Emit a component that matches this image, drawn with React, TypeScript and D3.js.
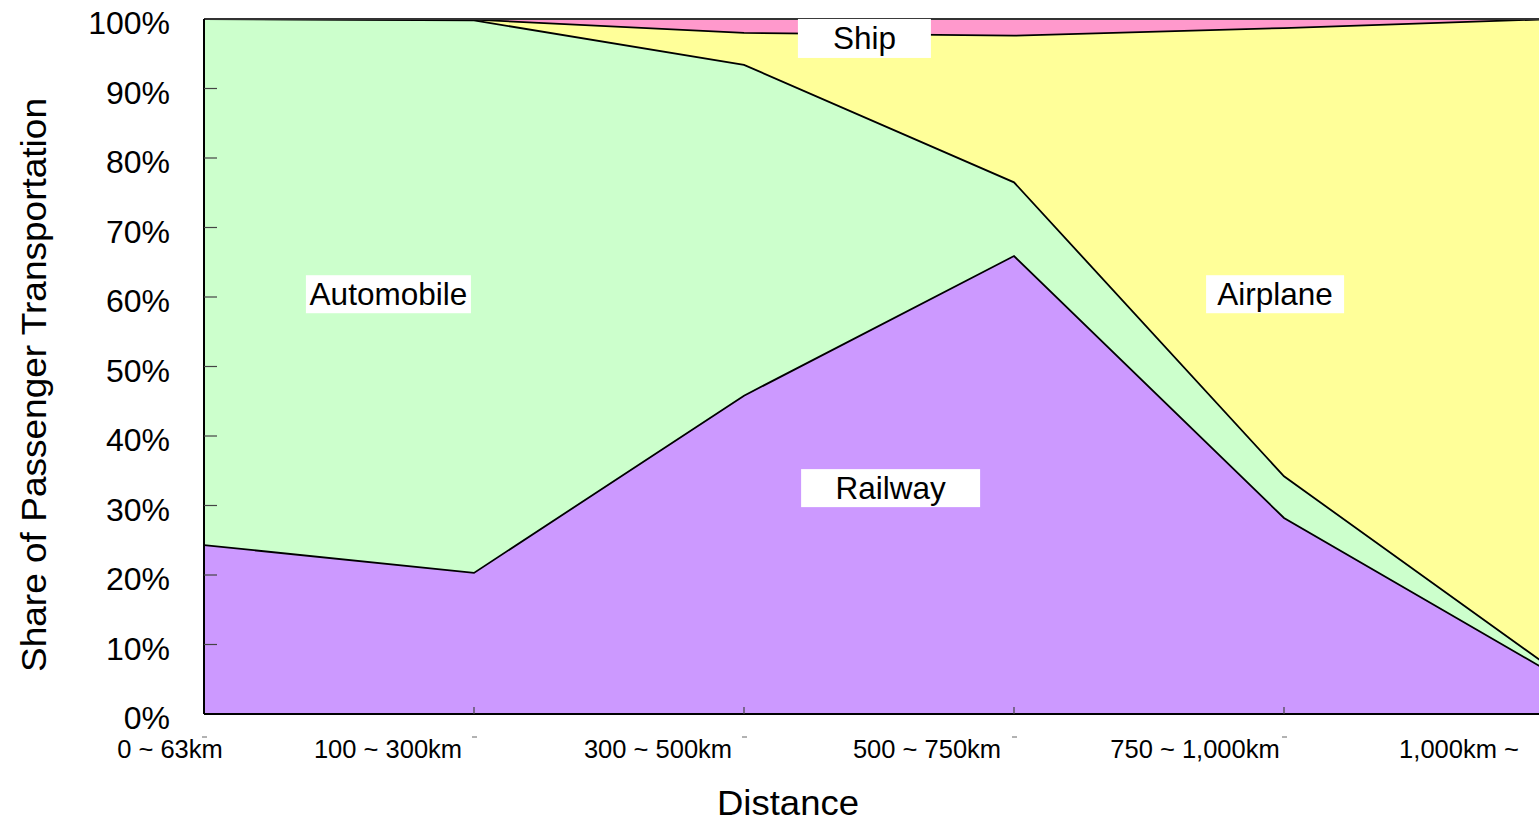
import React from "react";
import * as d3 from "d3";

const categories = ["0～63km", "100～300km", "300～500km", "500～750km", "750～1,000km", "1,000km～"];
const categoryLabels = ["0 ~ 63km", "100 ~ 300km", "300 ~ 500km", "500 ~ 750km", "750 ~ 1,000km", "1,000km ~"];
const railway = [24.3, 20.3, 45.8, 65.9, 28.2, 5.7];
const automobile = [75.7, 79.5, 47.6, 10.6, 6.0, 0.6];
const airplane = [0.0, 0.1, 4.6, 21.1, 64.5, 93.7];
const ship = [0.0, 0.1, 2.0, 2.4, 1.3, 0.0];
const seriesNames = ["Railway", "Automobile", "Airplane", "Ship"];
const yTicks = [0, 10, 20, 30, 40, 50, 60, 70, 80, 90, 100];

// annotation label anchors (category index position, value %)
const labelAnchors = [
  { name: "Ship", xi: 2.446, v: 97.2, w: 133, h: 39 },
  { name: "Automobile", xi: 0.683, v: 60.4, w: 165, h: 38 },
  { name: "Airplane", xi: 3.967, v: 60.4, w: 138, h: 38 },
  { name: "Railway", xi: 2.543, v: 32.5, w: 179, h: 38 },
];

const colors: Record<string, string> = {
  Railway: "#cc99ff",
  Automobile: "#ccffcc",
  Airplane: "#ffff99",
  Ship: "#ff99cc",
};

const W = 1539;
const H = 822;
const left = 204;
const top = 19;
const bottom = 714;
const step = 270;
const labelDx = [-34, -86, -86, -87, -89, -95];

export default function App() {
  const x = d3.scaleLinear().domain([0, categories.length - 1]).range([left, left + step * (categories.length - 1)]);
  const y = d3.scaleLinear().domain([0, 100]).range([bottom, top]);

  const rows = categories.map((c, i) => ({
    cat: c,
    i,
    Railway: railway[i],
    Automobile: automobile[i],
    Airplane: airplane[i],
    Ship: ship[i],
  }));
  const stack = d3.stack<any>().keys(seriesNames)(rows);
  const area = d3
    .area<any>()
    .x((d) => x(d.data.i))
    .y0((d) => y(d[0]))
    .y1((d) => y(Math.min(100, d[1])));
  const line = d3
    .line<any>()
    .x((d) => x(d.data.i))
    .y((d) => y(Math.min(100, d[1])));

  const font = "'Liberation Sans', Arial, sans-serif";
  const plotRight = x(categories.length - 1);

  return (
    <svg width={W} height={H} style={{ position: "absolute", left: 0, top: 0, background: "#fff" }} fontFamily={font}>
      <defs>
        <clipPath id="plot">
          <rect x={left} y={top} width={plotRight - left} height={bottom - top} />
        </clipPath>
      </defs>
      <g clipPath="url(#plot)">
        {stack.map((s) => (
          <path key={s.key} d={area(s) || ""} fill={colors[s.key]} stroke="none" />
        ))}
        {stack.slice(0, 3).map((s) => (
          <path key={"l" + s.key} d={line(s) || ""} fill="none" stroke="#000" strokeWidth={1.8} />
        ))}
      </g>
      {/* frame */}
      <line x1={left} x2={plotRight} y1={top} y2={top} stroke="#333" strokeWidth={2} />
      <line x1={left} x2={left} y1={top} y2={bottom} stroke="#000" strokeWidth={2} />
      <line x1={left} x2={plotRight} y1={bottom} y2={bottom} stroke="#000" strokeWidth={2} />
      {/* y ticks */}
      {yTicks.map((t) => (
        <g key={t}>
          {t > 0 && t < 100 && <line x1={left} x2={left + 13} y1={y(t)} y2={y(t)} stroke="#444" strokeWidth={1.2} />}
          <text x={170} y={y(t) + 15} fontSize={32} textAnchor="end" fill="#000">
            {t}%
          </text>
        </g>
      ))}
      {/* x ticks */}
      {categories.map((c, i) => (
        <g key={c}>
          {i > 0 && i < categories.length - 1 && (
            <line x1={x(i)} x2={x(i)} y1={bottom} y2={bottom - 7} stroke="#444" strokeWidth={1.2} />
          )}
          {i < categories.length - 1 && (
            <line x1={x(i) - 2} x2={x(i) + 3} y1={737} y2={737} stroke="#666" strokeWidth={1} />
          )}
          <text x={x(i) + labelDx[i]} y={758} fontSize={25.5} textAnchor="middle" fill="#000">
            {categoryLabels[i]}
          </text>
        </g>
      ))}
      {/* labels */}
      {labelAnchors.map((l) => {
        const cx = x(l.xi);
        const cy = y(l.v);
        return (
          <g key={l.name}>
            <rect x={cx - l.w / 2} y={cy - l.h / 2} width={l.w} height={l.h} fill="#fff" />
            <text x={cx} y={cy + 11} fontSize={31.5} textAnchor="middle" fill="#000">
              {l.name}
            </text>
          </g>
        );
      })}
      <text x={788} y={815} fontSize={35} textAnchor="middle" fill="#000" textLength={142} lengthAdjust="spacingAndGlyphs">
        Distance
      </text>
      <text
        transform={`translate(46,385) rotate(-90)`}
        fontSize={35}
        textAnchor="middle"
        fill="#000"
        textLength={574}
        lengthAdjust="spacingAndGlyphs"
      >
        Share of Passenger Transportation
      </text>
    </svg>
  );
}
